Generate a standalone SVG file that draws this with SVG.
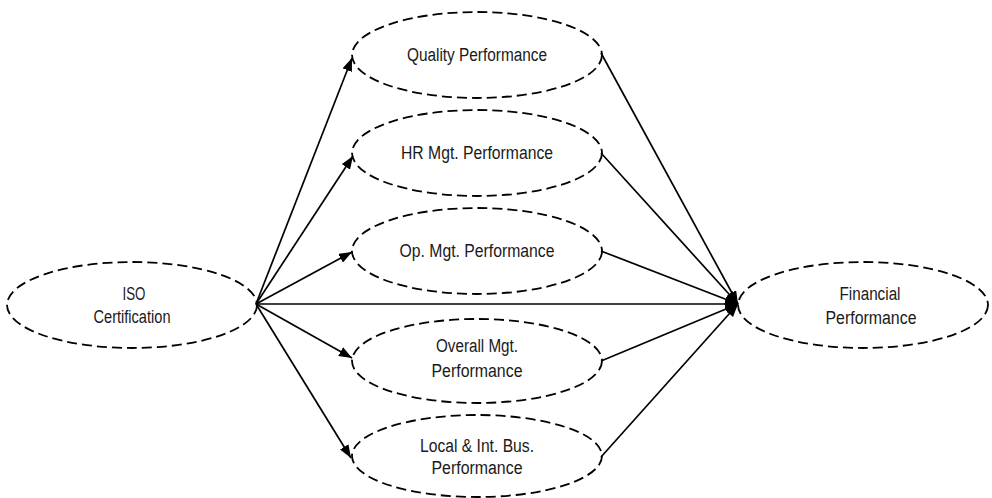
<svg xmlns="http://www.w3.org/2000/svg" width="992" height="498" viewBox="0 0 992 498">
<style>
.node ellipse{fill:none;stroke:#000;stroke-width:1.8;stroke-dasharray:10 5}
.node text{font-family:"Liberation Sans",Arial,sans-serif;font-size:18px;fill:#1a1a1a;text-anchor:middle}
#connectors line{stroke:#000;stroke-width:1.7;marker-end:url(#ah)}
</style>
<defs>
<marker id="ah" markerUnits="userSpaceOnUse" markerWidth="14" markerHeight="10" refX="13" refY="5" orient="auto">
<path d="M0,0 L13,5 L0,10 Z" fill="#000"/>
</marker>
</defs>
<rect width="992" height="498" fill="#fff"/>
<g id="connectors">
<line x1="256" y1="304" x2="352" y2="58"/>
<line x1="256" y1="304" x2="353" y2="156"/>
<line x1="256" y1="304" x2="352" y2="252"/>
<line x1="256" y1="304" x2="738" y2="304"/>
<line x1="256" y1="304" x2="352" y2="358"/>
<line x1="256" y1="304" x2="351" y2="458"/>
<line x1="601" y1="53" x2="738" y2="304"/>
<line x1="601" y1="153" x2="738" y2="304"/>
<line x1="601" y1="251" x2="738" y2="304"/>
<line x1="601" y1="361" x2="738" y2="304"/>
<line x1="601" y1="457" x2="738" y2="304"/>
</g>
<g id="iso" class="node"><ellipse cx="132" cy="305" rx="125" ry="43"/><text x="134" y="300" textLength="23" lengthAdjust="spacingAndGlyphs">ISO</text><text x="132" y="323" textLength="77" lengthAdjust="spacingAndGlyphs">Certification</text></g>
<g id="quality" class="node"><ellipse cx="477" cy="55" rx="125" ry="43"/><text x="477" y="61" textLength="140" lengthAdjust="spacingAndGlyphs">Quality Performance</text></g>
<g id="hr" class="node"><ellipse cx="477" cy="153" rx="125" ry="43"/><text x="477" y="159" textLength="152" lengthAdjust="spacingAndGlyphs">HR Mgt. Performance</text></g>
<g id="op" class="node"><ellipse cx="477" cy="251" rx="125" ry="43"/><text x="477" y="257" textLength="155" lengthAdjust="spacingAndGlyphs">Op. Mgt. Performance</text></g>
<g id="overall" class="node"><ellipse cx="477" cy="361" rx="125" ry="42"/><text x="477" y="352" textLength="82" lengthAdjust="spacingAndGlyphs">Overall Mgt.</text><text x="477" y="377" textLength="91" lengthAdjust="spacingAndGlyphs">Performance</text></g>
<g id="local" class="node"><ellipse cx="477" cy="456" rx="125" ry="41"/><text x="477" y="452" textLength="114" lengthAdjust="spacingAndGlyphs">Local &amp; Int. Bus.</text><text x="477" y="474" textLength="91" lengthAdjust="spacingAndGlyphs">Performance</text></g>
<g id="financial" class="node"><ellipse cx="863" cy="305" rx="125" ry="43"/><text x="870" y="300" textLength="61" lengthAdjust="spacingAndGlyphs">Financial</text><text x="871" y="324" textLength="91" lengthAdjust="spacingAndGlyphs">Performance</text></g>
</svg>
